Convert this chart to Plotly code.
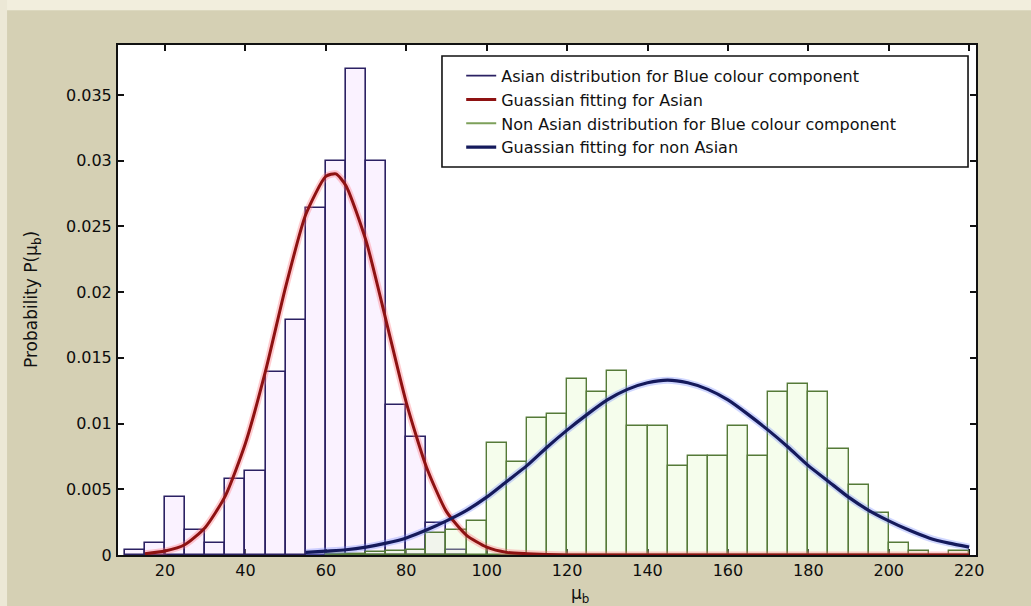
import plotly.graph_objects as go

# ---- histogram data: bin centres (width 5) and normalised frequencies ----
asian_bins = [12.5, 17.5, 22.5, 27.5, 32.5, 37.5, 42.5, 47.5, 52.5, 57.5,
              62.5, 67.5, 72.5, 77.5, 82.5, 87.5, 92.5]
asian_prob = [0.0004, 0.0009, 0.0044, 0.0019, 0.0009, 0.0058, 0.0064, 0.0139,
              0.0179, 0.0264, 0.0300, 0.0370, 0.0300, 0.0114, 0.0090, 0.0024, 0.0004]

non_asian_bins = [62.5, 67.5, 72.5, 77.5, 82.5, 87.5, 92.5, 97.5, 102.5, 107.5,
                  112.5, 117.5, 122.5, 127.5, 132.5, 137.5, 142.5, 147.5, 152.5,
                  157.5, 162.5, 167.5, 172.5, 177.5, 182.5, 187.5, 192.5, 197.5,
                  202.5, 207.5, 212.5, 217.5]
non_asian_prob = [0.0001, 0.0001, 0.0002, 0.0003, 0.0004, 0.0017, 0.0019, 0.0026,
                  0.0085, 0.0071, 0.0104, 0.0107, 0.0134, 0.0124, 0.0140, 0.0098,
                  0.0098, 0.0068, 0.0075, 0.0075, 0.0098, 0.0075, 0.0124, 0.0130,
                  0.0124, 0.0081, 0.0053, 0.0032, 0.0009, 0.0003, 0.0000, 0.0003]

# ---- fitted Gaussian curves ----
asian_fit_x = [15, 20, 25, 30, 35, 40, 45, 50, 55, 60, 62.5, 65, 70, 75, 80, 85,
               90, 95, 100, 105, 110, 120, 220]
asian_fit_y = [0.0001, 0.0003, 0.0008, 0.0021, 0.0045, 0.0085, 0.0140, 0.0204,
               0.0259, 0.0288, 0.0290, 0.0281, 0.0239, 0.0178, 0.0116, 0.0067,
               0.0033, 0.0015, 0.0006, 0.0002, 0.0001, 0.0, 0.0]

non_asian_fit_x = [55, 60, 65, 70, 75, 80, 85, 90, 95, 100, 105, 110, 115, 120,
                   125, 130, 135, 140, 145, 150, 155, 160, 165, 170, 175, 180,
                   185, 190, 195, 200, 205, 210, 215, 220]
non_asian_fit_y = [0.0002, 0.0003, 0.0004, 0.0006, 0.0009, 0.0013, 0.0019, 0.0026,
                   0.0034, 0.0044, 0.0056, 0.0068, 0.0082, 0.0095, 0.0107, 0.0118,
                   0.0126, 0.0131, 0.0133, 0.0131, 0.0126, 0.0118, 0.0107, 0.0095,
                   0.0082, 0.0068, 0.0056, 0.0044, 0.0034, 0.0026, 0.0019, 0.0013,
                   0.0009, 0.0006]

# ---- axis ticks ----
x_ticks = [20, 40, 60, 80, 100, 120, 140, 160, 180, 200, 220]
y_ticks = [0, 0.005, 0.01, 0.015, 0.02, 0.025, 0.03, 0.035]
y_tick_text = ["0", "0.005", "0.01", "0.015", "0.02", "0.025", "0.03", "0.035"]

legend_names = [
    "Asian distribution for Blue colour component",
    "Guassian fitting for Asian",
    "Non Asian distribution for Blue colour component",
    "Guassian fitting for non Asian",
]

ASIAN_EDGE = "#2b2163"
GREEN_EDGE = "#557a38"
RED = "#8e1212"
NAVY = "#151a5c"

fig = go.Figure()

# histograms
fig.add_trace(go.Bar(
    x=asian_bins, y=asian_prob, width=5, showlegend=False,
    marker=dict(color="rgba(240,212,255,0.30)", line=dict(color=ASIAN_EDGE, width=1.6)),
))
fig.add_trace(go.Bar(
    x=non_asian_bins, y=non_asian_prob, width=5, showlegend=False,
    marker=dict(color="rgba(225,250,195,0.32)", line=dict(color=GREEN_EDGE, width=1.4)),
))

# soft halo under each fitted curve
fig.add_trace(go.Scatter(
    x=asian_fit_x, y=asian_fit_y, mode="lines", showlegend=False, hoverinfo="skip",
    line=dict(color="rgba(255,110,120,0.35)", width=7, shape="spline", smoothing=0.6),
))
fig.add_trace(go.Scatter(
    x=non_asian_fit_x, y=non_asian_fit_y, mode="lines", showlegend=False, hoverinfo="skip",
    line=dict(color="rgba(120,140,255,0.35)", width=7, shape="spline", smoothing=0.6),
))

# fitted curves
fig.add_trace(go.Scatter(
    x=asian_fit_x, y=asian_fit_y, mode="lines", name=legend_names[1],
    legendrank=2, legendgroup="g2",
    line=dict(color=RED, width=3, shape="spline", smoothing=0.6),
))
fig.add_trace(go.Scatter(
    x=non_asian_fit_x, y=non_asian_fit_y, mode="lines", name=legend_names[3],
    legendrank=4, legendgroup="g4",
    line=dict(color=NAVY, width=3.2, shape="spline", smoothing=0.6),
))

# line-style legend keys for the two histograms
fig.add_trace(go.Scatter(
    x=[None], y=[None], mode="lines", name=legend_names[0],
    legendrank=1, legendgroup="g1", line=dict(color=ASIAN_EDGE, width=1.6),
))
fig.add_trace(go.Scatter(
    x=[None], y=[None], mode="lines", name=legend_names[2],
    legendrank=3, legendgroup="g3", line=dict(color="#7da05a", width=2),
))

axis_font = dict(family="DejaVu Sans", size=16, color="#0d0d0d")

fig.update_layout(
    width=1031, height=606,
    margin=dict(l=118, r=55, t=45, b=51),
    paper_bgcolor="#d5d0b4",
    plot_bgcolor="#ffffff",
    barmode="overlay",
    bargap=0,
    font=dict(family="DejaVu Sans", color="#111111"),
    showlegend=True,
    legend=dict(
        x=0.4, xanchor="left", y=0.973, yanchor="top",
        bgcolor="rgba(0,0,0,0)", borderwidth=0,
        font=dict(family="DejaVu Sans", size=16, color="#111111"),
        traceorder="grouped", tracegroupgap=0,
    ),
    xaxis=dict(
        range=[8.3, 221.7], tickmode="array", tickvals=x_ticks,
        ticks="inside", ticklen=6, tickwidth=1.5, tickcolor="#111111",
        showline=True, linecolor="#111111", linewidth=2, mirror="ticks",
        showgrid=False, zeroline=False, tickfont=axis_font,
        layer="below traces",
    ),
    yaxis=dict(
        range=[0, 0.0388], tickmode="array", tickvals=y_ticks, ticktext=y_tick_text,
        ticks="inside", ticklen=6, tickwidth=1.5, tickcolor="#111111",
        showline=True, linecolor="#111111", linewidth=2, mirror="ticks",
        showgrid=False, zeroline=False, tickfont=axis_font,
        ticklabelstandoff=1,
    ),
    shapes=[
        # light border strips along the top and left of the canvas
        dict(type="rect", xref="paper", yref="paper", x0=-0.2, x1=1.1, y0=1.068, y1=1.2,
             fillcolor="#f2eedd", line=dict(width=0), layer="below"),
        dict(type="rect", xref="paper", yref="paper", x0=-0.2, x1=-0.1293, y0=-0.2, y1=1.2,
             fillcolor="#ece8d6", line=dict(width=0), layer="below"),
        # legend frame
        dict(type="rect", xref="paper", yref="paper", x0=0.3776, x1=0.9907, y0=0.7608, y1=0.9784,
             fillcolor="#ffffff", line=dict(color="#111111", width=1.6), layer="above"),
    ],
    annotations=[
        dict(text="Probability P(\u03bc<sub>b</sub>)", textangle=-90,
             xref="paper", yref="paper", x=-0.1002, y=0.5, xanchor="center", yanchor="middle",
             showarrow=False, font=dict(family="DejaVu Sans", size=17, color="#111111")),
        dict(text="\u03bc<sub>b</sub>",
             xref="paper", yref="paper", x=0.538, y=-0.077, xanchor="center", yanchor="middle",
             showarrow=False, font=dict(family="DejaVu Sans", size=17, color="#111111")),
    ],
)

fig.write_html("out.html")
